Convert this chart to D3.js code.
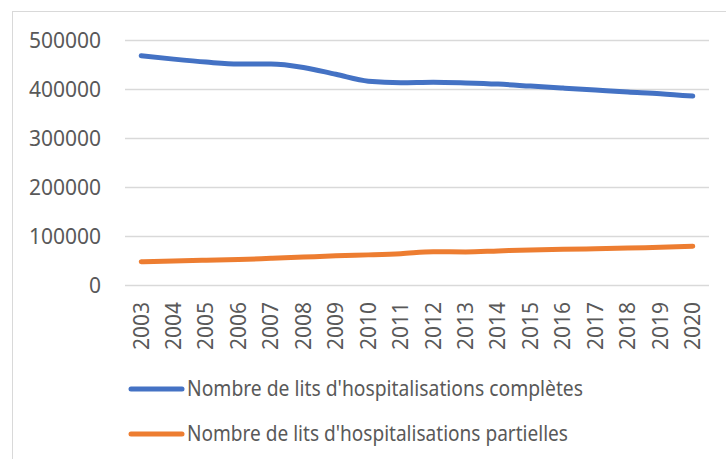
<!DOCTYPE html>
<html>
<head>
<meta charset="utf-8">
<script src="https://cdn.jsdelivr.net/npm/d3@7"></script>
<style>
  body { margin: 0; background: #fff; }
  svg { display: block; }
</style>
</head>
<body>
<div id="chart"></div>
<script>
const years = ['2003', '2004', '2005', '2006', '2007', '2008', '2009', '2010', '2011',
    '2012', '2013', '2014', '2015', '2016', '2017', '2018', '2019', '2020'];
const completes = [469000, 462000, 456000, 452000, 452000, 445000, 431000, 417000, 414000,
    415000, 413500, 411000, 407000, 403000, 399000, 395000, 391500, 386500];
const partielles = [48600, 50000, 51500, 53000, 55500, 58000, 60500, 62500, 65000,
    69000, 68500, 70500, 72500, 74000, 75000, 76500, 78000, 80000];
const yTicks = [0, 100000, 200000, 300000, 400000, 500000];
const seriesNames = ["Nombre de lits d'hospitalisations complètes", "Nombre de lits d'hospitalisations partielles"];
const seriesColors = ['#4472C4', '#ED7D31'];

const width = 726;
const height = 459;
const font = "'Noto Sans', 'Open Sans', sans-serif";
const textColor = '#595959';

const svg = d3.select('#chart').append('svg')
    .attr('width', width)
    .attr('height', height);

// chart area border
svg.append('rect')
    .attr('x', 12.5)
    .attr('y', 11.5)
    .attr('width', 730)
    .attr('height', 460)
    .attr('fill', '#fff')
    .attr('stroke', '#d9d9d9')
    .attr('stroke-width', 1);

const x = d3.scalePoint().domain(years).range([125, 709]).padding(0.5);
const y = d3.scaleLinear().domain([0, 500000]).range([285.5, 40.5]);

// gridlines
svg.append('g')
    .selectAll('line')
    .data(yTicks)
    .join('line')
    .attr('x1', 125)
    .attr('x2', 709)
    .attr('y1', d => y(d))
    .attr('y2', d => y(d))
    .attr('stroke', '#d9d9d9')
    .attr('stroke-width', 1.5);

// y labels
svg.append('g')
    .selectAll('text')
    .data(yTicks)
    .join('text')
    .attr('x', 101)
    .attr('y', d => y(d))
    .attr('dy', '0.35em')
    .attr('text-anchor', 'end')
    .attr('font-family', font)
    .attr('font-size', '21px')
    .attr('fill', textColor)
    .text(d => d);

// x labels, rotated
svg.append('g')
    .selectAll('text')
    .data(years)
    .join('text')
    .attr('transform', d => `translate(${x(d)},302) rotate(-90)`)
    .attr('dy', '0.35em')
    .attr('text-anchor', 'end')
    .attr('font-family', font)
    .attr('font-size', '21px')
    .attr('fill', textColor)
    .text(d => d);

const line = d3.line()
    .x((d, i) => x(years[i]))
    .y(d => y(d))
    .curve(d3.curveMonotoneX);

[completes, partielles].forEach((values, i) => {
    svg.append('path')
        .datum(values)
        .attr('d', line)
        .attr('fill', 'none')
        .attr('stroke', seriesColors[i])
        .attr('stroke-width', 5)
        .attr('stroke-linecap', 'round')
        .attr('stroke-linejoin', 'round');
});

// legend
const legendY = [389, 434];
const legendWidths = [396, 381];
seriesNames.forEach((name, i) => {
    svg.append('line')
        .attr('x1', 131)
        .attr('x2', 182)
        .attr('y1', legendY[i])
        .attr('y2', legendY[i])
        .attr('stroke', seriesColors[i])
        .attr('stroke-width', 5)
        .attr('stroke-linecap', 'round');
    svg.append('text')
        .attr('x', 187)
        .attr('y', legendY[i])
        .attr('dy', '0.35em')
        .attr('font-family', font)
        .attr('font-size', '21px')
        .attr('fill', textColor)
        .attr('textLength', legendWidths[i])
        .attr('lengthAdjust', 'spacingAndGlyphs')
        .text(name);
});
</script>
</body>
</html>
